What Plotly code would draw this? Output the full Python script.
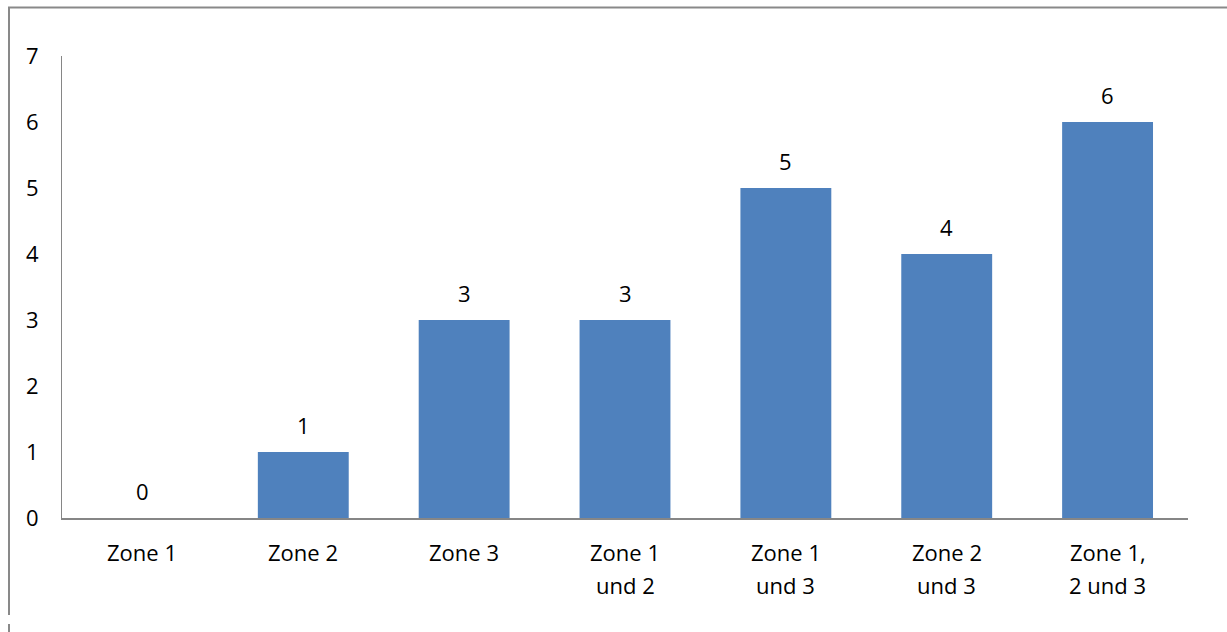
import plotly.graph_objects as go

categories = ["Zone 1", "Zone 2", "Zone 3", "Zone 1<br>und 2", "Zone 1<br>und 3", "Zone 2<br>und 3", "Zone 1,<br>2 und 3"]
values = [0, 1, 3, 3, 5, 4, 6]
y_ticks = [0, 1, 2, 3, 4, 5, 6, 7]

W, H = 1227, 632
L, R, T, B = 62, 1188, 56, 518

def px_x(p):
    return (p - L) / (R - L)

def px_y(p):
    return (B - p) / (B - T)

FONT = "Open Sans"
FS = 22
xs = list(range(len(categories)))

fig = go.Figure(go.Bar(
    x=xs, y=values,
    marker=dict(color="#4F81BD", line=dict(width=0)),
    width=0.565,
))

annotations = []
for x, v in zip(xs, values):
    annotations.append(dict(x=x, y=v, xref="x", yref="y", text=str(v), showarrow=False,
                            yanchor="middle", xanchor="center", yshift=27,
                            font=dict(family=FONT, size=FS, color="#000000")))
for x, c in zip(xs, categories):
    lines = c.split("<br>")
    for i, ln in enumerate(lines):
        annotations.append(dict(x=x, y=px_y(552 + 33 * i), xref="x", yref="paper", text=ln,
                                showarrow=False, yanchor="middle", xanchor="center",
                                font=dict(family=FONT, size=FS, color="#000000")))

border = dict(color="#898989", width=2)
fig.update_layout(
    width=W, height=H,
    margin=dict(l=L, r=W - R, t=T, b=H - B),
    plot_bgcolor="white", paper_bgcolor="white",
    showlegend=False,
    font=dict(family=FONT, size=FS, color="#000000"),
    xaxis=dict(
        range=[-0.5, len(categories) - 0.5],
        tickmode="array", tickvals=xs, ticktext=["" for _ in xs],
        showgrid=False, zeroline=False, showline=True, linecolor="#868686", linewidth=2,
        ticks="",
    ),
    yaxis=dict(
        range=[0, 7], tickmode="array", tickvals=y_ticks,
        ticktext=[str(v) for v in y_ticks],
        showgrid=False, zeroline=False, showline=True, linecolor="#868686", linewidth=1,
        ticks="", ticklabelstandoff=18,
    ),
    annotations=annotations,
    shapes=[
        dict(type="line", xref="paper", yref="paper",
             x0=px_x(8), x1=px_x(1230), y0=px_y(7.5), y1=px_y(7.5), line=border),
        dict(type="line", xref="paper", yref="paper",
             x0=px_x(9), x1=px_x(9), y0=px_y(7), y1=px_y(615), line=border),
        dict(type="line", xref="paper", yref="paper",
             x0=px_x(9), x1=px_x(9), y0=px_y(624), y1=px_y(635), line=border),
    ],
)

fig.write_html("out.html")
